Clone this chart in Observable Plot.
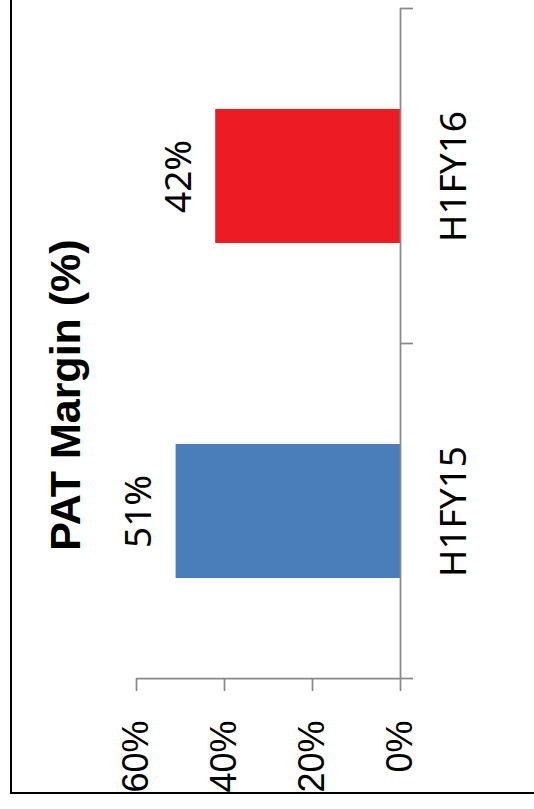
<!DOCTYPE html>
<html>
<head>
<meta charset="utf-8">
<script src="https://cdn.jsdelivr.net/npm/d3@7"></script>
<script src="https://cdn.jsdelivr.net/npm/@observablehq/plot@0.6"></script>
<style>
  html, body { margin: 0; padding: 0; background: #fff; overflow: hidden; }
  #wrap { position: relative; width: 534px; height: 809px; overflow: hidden; }
  #border {
    position: absolute; left: 10px; top: -4px; width: 560px; height: 798px;
    border-left: 2px solid #000; border-bottom: 2px solid #000; box-sizing: border-box;
  }
  #chart { position: absolute; left: 0; top: 0; }
  #title {
    position: absolute; left: 65px; top: 395px;
    transform: translate(-50%, -50%) rotate(-90deg);
    white-space: nowrap;
    font: bold 43px "Liberation Sans", Arial, sans-serif;
    color: #000;
  }
</style>
</head>
<body>
<div id="wrap">
  <div id="border"></div>
  <div id="chart"></div>
  <div id="title"></div>
</div>
<script>
// PAT margin by half-year, drawn as a chart turned on its side
const titleText = "PAT Margin (%)";
const categories = ["H1FY15", "H1FY16"];
const margins = [0.51, 0.42];
const barColors = ["#4a7ebb", "#ed1c24"];
const valueTicks = [0, 0.2, 0.4, 0.6];

const axisGray = "#888888";
const pct = d3.format(".0%");
const labelFont = "'Noto Sans', 'Open Sans', sans-serif";
const tickFont = "'Liberation Sans', Arial, sans-serif";

const data = categories.map((c, i) => ({category: c, margin: margins[i], color: barColors[i]}));

document.getElementById("title").textContent = titleText;

const chart = Plot.plot({
  width: 534,
  height: 809,
  marginLeft: 136,
  marginRight: 134,
  marginTop: 8,
  marginBottom: 131,
  style: {background: "transparent"},
  x: {domain: [0, 0.6], reverse: true},
  y: {domain: categories.slice().reverse(), paddingInner: 0.6, paddingOuter: 0.3},
  color: {type: "identity"},
  marks: [
    Plot.barX(data, {x: "margin", y: "category", fill: "color"}),
    // category axis line
    Plot.ruleX([0], {stroke: axisGray, strokeWidth: 1.75}),
    // value axis ticks
    Plot.axisX({
      anchor: "bottom", ticks: valueTicks, tickSize: 13, label: null,
      stroke: axisGray, strokeWidth: 1.75, tickFormat: () => ""
    }),
    // value axis labels
    Plot.axisX({
      anchor: "bottom", ticks: valueTicks, tickSize: 0, tickPadding: 42, label: null,
      tickRotate: -90, textAnchor: "end", lineAnchor: "middle",
      tickFormat: pct, fontSize: 36, fontFamily: tickFont, fill: "#000"
    }),
    // category labels
    Plot.axisY({
      anchor: "right", tickSize: 0, tickPadding: 54, label: null,
      tickRotate: -90, textAnchor: "middle", lineAnchor: "middle",
      fontSize: 37, fontFamily: labelFont, fill: "#000"
    }),
    // value labels beside each bar
    Plot.text(data, {
      x: "margin", y: "category", text: d => pct(d.margin),
      rotate: -90, dx: -37, textAnchor: "middle", lineAnchor: "middle",
      fontSize: 37, fontFamily: labelFont, fill: "#000"
    })
  ]
});

document.getElementById("chart").appendChild(chart);

// Axis line along the value axis and tick marks between categories
const xs = chart.scale("x");
const ys = chart.scale("y");
const bw = ys.bandwidth;
const step = ys.step;
const half = (step - bw) / 2;
const order = ys.domain;
const bounds = order.map(c => ys.apply(c) - half);
bounds.push(ys.apply(order[order.length - 1]) + bw + half);
const x0 = xs.apply(0);
const g = d3.select(chart).append("g")
  .attr("stroke", axisGray).attr("stroke-width", 1.75).attr("fill", "none");
g.selectAll("line.sep").data(bounds).join("line")
  .attr("class", "sep")
  .attr("x1", x0).attr("x2", x0 + 13)
  .attr("y1", d => d).attr("y2", d => d);
g.append("line")
  .attr("x1", xs.apply(valueTicks[valueTicks.length - 1])).attr("x2", x0)
  .attr("y1", bounds[bounds.length - 1]).attr("y2", bounds[bounds.length - 1]);
</script>
</body>
</html>
